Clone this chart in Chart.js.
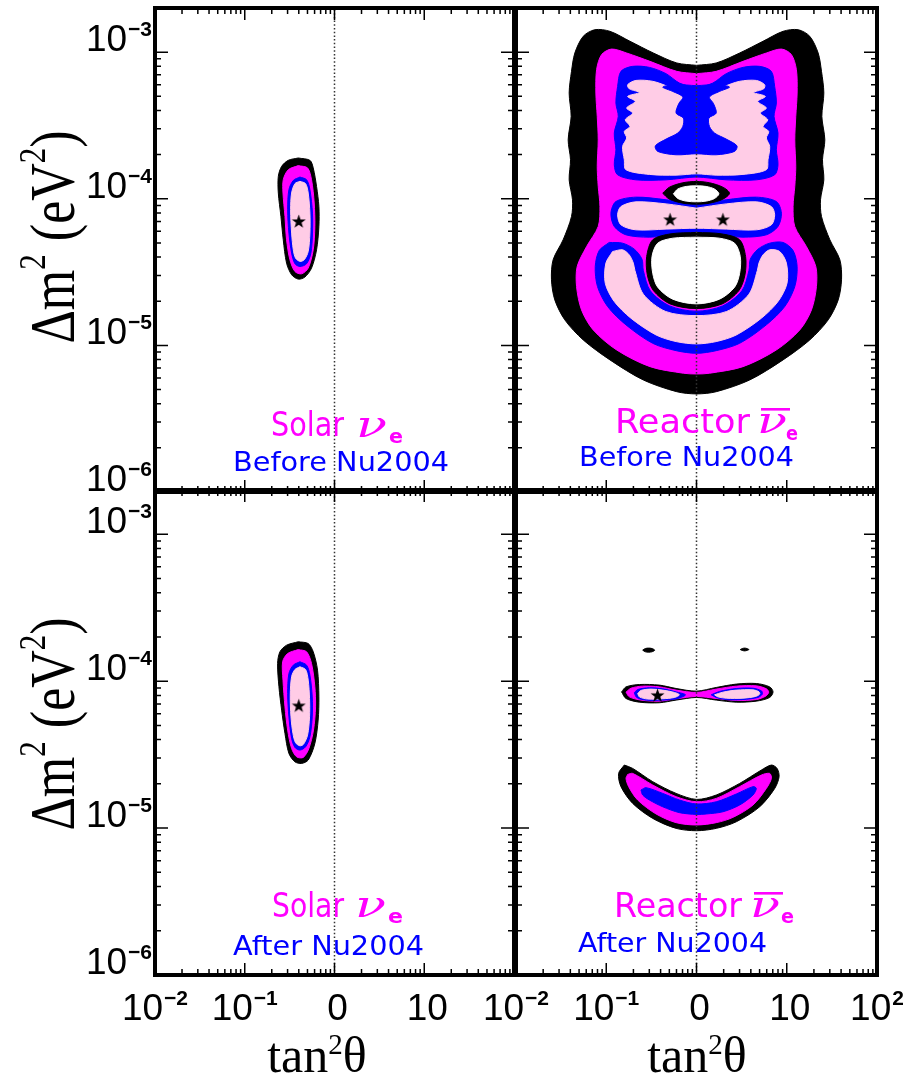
<!DOCTYPE html>
<html>
<head>
<meta charset="utf-8">
<title>Solar and reactor neutrino oscillation regions</title>
<script src="https://cdn.jsdelivr.net/npm/chart.js@4.4.1/dist/chart.umd.min.js"></script>
<style>
  html, body { margin: 0; padding: 0; background: #fff; }
  #wrap { position: relative; width: 903px; height: 1079px; overflow: hidden; background: #fff; }
  #wrap canvas { position: absolute; left: 0; top: 0; }
</style>
</head>
<body>
<div id="wrap">
  <canvas id="solarBeforeCanvas" width="903" height="1079"></canvas>
  <canvas id="reactorBeforeCanvas" width="903" height="1079"></canvas>
  <canvas id="solarAfterCanvas" width="903" height="1079"></canvas>
  <canvas id="reactorAfterCanvas" width="903" height="1079"></canvas>
</div>
<script>
// ---- axes ----
const xRange = [0.01, 100];          // tan^2(theta)
const yRange = [1e-6, 2e-3];         // Delta m^2 in eV^2
const xTickValues = [0.01, 0.1, 1, 10, 100];
const xTickLabels = [['10', '\u22122'], ['10', '\u22121'], ['0', ''], ['10', ''], ['10', '2']];
const yTickValues = [1e-6, 1e-5, 1e-4, 1e-3];
const yTickLabels = [['10', '\u22126'], ['10', '\u22125'], ['10', '\u22124'], ['10', '\u22123']];

// maximal mixing reference line
const unitMixingLine = [{ x: 1, y: 1e-6 }, { x: 1, y: 2e-3 }];

// ---- allowed regions, vertices as [log10 tan^2(theta), log10 Delta m^2] ----
// Solar, before Nu2004
const solarBefore3s = [[-0.404,-3.722],[-0.274,-3.738],[-0.237,-3.790],[-0.200,-3.916],[-0.174,-4.052],[-0.174,-4.189],[-0.200,-4.348],[-0.256,-4.473],[-0.330,-4.534],[-0.404,-4.548],[-0.478,-4.518],[-0.534,-4.439],[-0.571,-4.280],[-0.597,-4.120],[-0.626,-3.961],[-0.626,-3.847],[-0.589,-3.779],[-0.515,-3.738]];
const solarBefore99 = [[-0.404,-3.774],[-0.300,-3.790],[-0.256,-3.870],[-0.226,-4.029],[-0.219,-4.189],[-0.237,-4.348],[-0.293,-4.473],[-0.367,-4.512],[-0.441,-4.496],[-0.497,-4.416],[-0.534,-4.280],[-0.552,-4.120],[-0.574,-3.961],[-0.571,-3.870],[-0.515,-3.802]];
const solarBefore95 = [[-0.385,-3.852],[-0.311,-3.870],[-0.274,-3.938],[-0.245,-4.098],[-0.245,-4.234],[-0.263,-4.371],[-0.311,-4.443],[-0.385,-4.462],[-0.441,-4.443],[-0.478,-4.371],[-0.508,-4.234],[-0.522,-4.075],[-0.508,-3.938],[-0.459,-3.875]];
const solarBefore90 = [[-0.385,-3.881],[-0.322,-3.897],[-0.293,-3.961],[-0.274,-4.098],[-0.274,-4.234],[-0.293,-4.359],[-0.337,-4.416],[-0.385,-4.427],[-0.434,-4.405],[-0.459,-4.348],[-0.478,-4.234],[-0.489,-4.075],[-0.478,-3.961],[-0.441,-3.897]];
const solarBeforeBest = [{ x: 0.40, y: 7.0e-5 }];

// Solar, after Nu2004
const solarAfter3s = [[-0.404,-3.732],[-0.293,-3.744],[-0.237,-3.800],[-0.189,-3.925],[-0.174,-4.107],[-0.182,-4.265],[-0.219,-4.424],[-0.293,-4.537],[-0.367,-4.560],[-0.441,-4.549],[-0.508,-4.492],[-0.552,-4.356],[-0.589,-4.197],[-0.619,-4.038],[-0.634,-3.880],[-0.608,-3.800],[-0.533,-3.755]];
const solarAfter99 = [[-0.404,-3.785],[-0.311,-3.800],[-0.256,-3.880],[-0.219,-4.038],[-0.211,-4.175],[-0.234,-4.333],[-0.285,-4.458],[-0.348,-4.519],[-0.422,-4.515],[-0.478,-4.458],[-0.522,-4.333],[-0.552,-4.175],[-0.574,-3.993],[-0.578,-3.868],[-0.522,-3.812]];
const solarAfter95 = [[-0.385,-3.868],[-0.311,-3.891],[-0.274,-3.959],[-0.248,-4.107],[-0.248,-4.243],[-0.274,-4.379],[-0.322,-4.447],[-0.385,-4.469],[-0.441,-4.451],[-0.478,-4.390],[-0.508,-4.243],[-0.522,-4.084],[-0.508,-3.948],[-0.459,-3.891]];
const solarAfter90 = [[-0.385,-3.902],[-0.322,-3.921],[-0.293,-3.993],[-0.278,-4.118],[-0.278,-4.243],[-0.300,-4.367],[-0.345,-4.429],[-0.385,-4.440],[-0.434,-4.419],[-0.463,-4.356],[-0.485,-4.243],[-0.493,-4.095],[-0.478,-3.970],[-0.441,-3.921]];
const solarAfterBest = [{ x: 0.40, y: 6.8e-5 }];

// Reactor, before Nu2004
const reactorBefore3s = [[0,-3.090],[0.218,-3.074],[0.478,-3.006],[0.737,-2.926],[0.959,-2.858],[1.126,-2.847],[1.255,-2.892],[1.348,-3.006],[1.385,-3.131],[1.411,-3.279],[1.389,-3.438],[1.422,-3.598],[1.396,-3.734],[1.411,-3.871],[1.374,-4.007],[1.385,-4.121],[1.478,-4.280],[1.589,-4.417],[1.607,-4.553],[1.570,-4.690],[1.459,-4.826],[1.255,-4.963],[0.959,-5.099],[0.589,-5.236],[0.218,-5.316],[0,-5.331],[-0.218,-5.316],[-0.589,-5.236],[-0.959,-5.099],[-1.255,-4.963],[-1.459,-4.826],[-1.570,-4.690],[-1.607,-4.553],[-1.589,-4.417],[-1.478,-4.280],[-1.385,-4.121],[-1.374,-4.007],[-1.411,-3.871],[-1.396,-3.734],[-1.422,-3.598],[-1.389,-3.438],[-1.411,-3.279],[-1.385,-3.131],[-1.348,-3.006],[-1.255,-2.892],[-1.126,-2.847],[-0.959,-2.858],[-0.737,-2.926],[-0.478,-3.006],[-0.218,-3.074]];
const reactorBefore99 = [[0,-3.147],[0.218,-3.131],[0.515,-3.063],[0.774,-3.006],[0.941,-2.979],[1.052,-3.017],[1.107,-3.120],[1.115,-3.279],[1.100,-3.438],[1.089,-3.598],[1.100,-3.780],[1.089,-3.916],[1.070,-4.053],[1.089,-4.189],[1.218,-4.326],[1.322,-4.462],[1.329,-4.599],[1.274,-4.758],[1.144,-4.895],[0.885,-5.031],[0.515,-5.145],[0.144,-5.190],[0,-5.195],[-0.144,-5.190],[-0.515,-5.145],[-0.885,-5.031],[-1.144,-4.895],[-1.274,-4.758],[-1.329,-4.599],[-1.322,-4.462],[-1.218,-4.326],[-1.089,-4.189],[-1.070,-4.053],[-1.089,-3.916],[-1.100,-3.780],[-1.089,-3.598],[-1.100,-3.438],[-1.115,-3.279],[-1.107,-3.120],[-1.052,-3.017],[-0.941,-2.979],[-0.774,-3.006],[-0.515,-3.063],[-0.218,-3.131]];
const reactorBefore95Upper = [[0,-3.245],[0.181,-3.211],[0.329,-3.147],[0.515,-3.104],[0.700,-3.097],[0.829,-3.131],[0.866,-3.234],[0.885,-3.347],[0.859,-3.438],[0.903,-3.552],[0.885,-3.666],[0.903,-3.768],[0.866,-3.837],[0.663,-3.871],[0.329,-3.871],[0,-3.852],[-0.337,-3.871],[-0.671,-3.871],[-0.874,-3.837],[-0.911,-3.768],[-0.893,-3.666],[-0.911,-3.552],[-0.867,-3.438],[-0.893,-3.347],[-0.874,-3.234],[-0.837,-3.131],[-0.708,-3.097],[-0.522,-3.104],[-0.337,-3.147],[-0.189,-3.211]];
const reactorBefore90Upper = [[0,-3.302],[0.144,-3.279],[0.292,-3.238],[0.478,-3.199],[0.663,-3.193],[0.755,-3.222],[0.745,-3.250],[0.634,-3.275],[0.763,-3.302],[0.678,-3.336],[0.774,-3.381],[0.708,-3.416],[0.789,-3.461],[0.737,-3.507],[0.800,-3.541],[0.774,-3.586],[0.811,-3.643],[0.792,-3.734],[0.774,-3.802],[0.515,-3.834],[0.218,-3.839],[0,-3.830],[-0.226,-3.839],[-0.522,-3.834],[-0.782,-3.802],[-0.800,-3.734],[-0.819,-3.643],[-0.774,-3.586],[-0.800,-3.541],[-0.737,-3.507],[-0.789,-3.461],[-0.708,-3.416],[-0.774,-3.381],[-0.678,-3.336],[-0.763,-3.302],[-0.634,-3.275],[-0.745,-3.250],[-0.763,-3.222],[-0.671,-3.193],[-0.485,-3.199],[-0.300,-3.238],[-0.152,-3.279]];
const reactorBeforeCore95 = [[0,-3.229],[0.218,-3.222],[0.366,-3.238],[0.255,-3.268],[0.144,-3.306],[0.189,-3.352],[0.218,-3.416],[0.137,-3.450],[0.144,-3.507],[0.200,-3.552],[0.329,-3.593],[0.448,-3.639],[0.422,-3.677],[0.218,-3.700],[0,-3.693],[-0.226,-3.700],[-0.430,-3.677],[-0.456,-3.639],[-0.337,-3.593],[-0.208,-3.552],[-0.152,-3.507],[-0.145,-3.450],[-0.226,-3.416],[-0.197,-3.352],[-0.152,-3.306],[-0.263,-3.268],[-0.374,-3.238],[-0.226,-3.222]];
const reactorBefore95Low = [[-0.967,-4.298],[-1.078,-4.353],[-1.122,-4.462],[-1.097,-4.599],[-0.985,-4.735],[-0.782,-4.860],[-0.485,-4.986],[-0.226,-5.036],[0,-5.054],[0.218,-5.036],[0.478,-4.986],[0.774,-4.860],[0.978,-4.735],[1.089,-4.599],[1.115,-4.462],[1.070,-4.353],[0.959,-4.298],[0.811,-4.303],[0.681,-4.344],[0.596,-4.412],[0.581,-4.490],[0.503,-4.628],[0.289,-4.731],[0,-4.767],[-0.297,-4.731],[-0.511,-4.628],[-0.589,-4.490],[-0.604,-4.412],[-0.689,-4.344],[-0.819,-4.303]];
const reactorBefore90Low = [[-0.930,-4.360],[-1.004,-4.439],[-1.011,-4.576],[-0.911,-4.701],[-0.726,-4.815],[-0.448,-4.929],[-0.226,-4.974],[0,-4.990],[0.218,-4.974],[0.441,-4.929],[0.718,-4.815],[0.903,-4.701],[1.003,-4.576],[0.996,-4.439],[0.922,-4.360],[0.811,-4.348],[0.737,-4.383],[0.692,-4.439],[0.674,-4.490],[0.581,-4.651],[0.333,-4.769],[0,-4.797],[-0.341,-4.769],[-0.589,-4.651],[-0.682,-4.490],[-0.700,-4.439],[-0.745,-4.383],[-0.819,-4.348]];
const reactorBefore95Mid = [[0,-4.035],[0.329,-4.007],[0.663,-3.989],[0.885,-4.019],[0.941,-4.098],[0.903,-4.189],[0.774,-4.246],[0.515,-4.262],[0.218,-4.246],[0,-4.235],[-0.226,-4.246],[-0.522,-4.262],[-0.782,-4.246],[-0.911,-4.189],[-0.948,-4.098],[-0.893,-4.019],[-0.671,-3.989],[-0.337,-4.007]];
const reactorBefore90Mid = [[0,-4.064],[0.329,-4.035],[0.663,-4.021],[0.829,-4.053],[0.866,-4.110],[0.829,-4.178],[0.663,-4.212],[0.329,-4.207],[0,-4.201],[-0.337,-4.207],[-0.671,-4.212],[-0.837,-4.178],[-0.874,-4.110],[-0.837,-4.053],[-0.671,-4.021],[-0.337,-4.035]];
const reactorBeforeGapUp3s = [[-0.374,-3.962],[-0.300,-3.921],[-0.152,-3.891],[0,-3.882],[0.144,-3.891],[0.292,-3.921],[0.366,-3.962],[0.292,-4.003],[0.144,-4.030],[0,-4.037],[-0.152,-4.030],[-0.300,-4.003]];
const reactorBeforeGapUp = [[-0.256,-3.966],[-0.208,-3.934],[-0.115,-3.916],[0,-3.912],[0.107,-3.916],[0.200,-3.934],[0.248,-3.966],[0.200,-3.998],[0.107,-4.016],[0,-4.021],[-0.115,-4.016],[-0.208,-3.998]];
const reactorBeforeGapLow3s = [[0,-4.230],[0.274,-4.239],[0.478,-4.280],[0.544,-4.394],[0.537,-4.519],[0.470,-4.626],[0.285,-4.717],[0,-4.749],[-0.293,-4.717],[-0.478,-4.626],[-0.545,-4.519],[-0.552,-4.394],[-0.485,-4.280],[-0.282,-4.239]];
const reactorBeforeGapLow = [[0,-4.262],[0.255,-4.269],[0.422,-4.303],[0.485,-4.394],[0.478,-4.508],[0.422,-4.603],[0.255,-4.685],[0,-4.717],[-0.263,-4.685],[-0.430,-4.603],[-0.485,-4.508],[-0.493,-4.394],[-0.430,-4.303],[-0.263,-4.269]];
const reactorBeforeBest = [{ x: 0.51, y: 7.2e-5 }, { x: 1.96, y: 7.2e-5 }];

// Reactor, after Nu2004
const reactorAfter3sIslandL = [[-0.596,-3.789],[-0.567,-3.778],[-0.530,-3.775],[-0.493,-3.778],[-0.463,-3.789],[-0.493,-3.800],[-0.530,-3.803],[-0.567,-3.800]];
const reactorAfter3sIslandR = [[0.485,-3.785],[0.507,-3.778],[0.533,-3.775],[0.559,-3.778],[0.581,-3.785],[0.559,-3.791],[0.533,-3.794],[0.507,-3.791]];
const reactorAfter3sMain = [[-0.830,-4.073],[-0.781,-4.039],[-0.633,-4.023],[-0.411,-4.027],[-0.226,-4.050],[0,-4.068],[0.219,-4.043],[0.441,-4.020],[0.663,-4.016],[0.811,-4.039],[0.848,-4.073],[0.811,-4.111],[0.663,-4.136],[0.441,-4.143],[0.219,-4.129],[0,-4.111],[-0.226,-4.129],[-0.411,-4.147],[-0.633,-4.143],[-0.781,-4.118]];
const reactorAfter99Main = [[-0.781,-4.075],[-0.726,-4.048],[-0.596,-4.034],[-0.411,-4.039],[-0.226,-4.061],[0,-4.077],[0.219,-4.054],[0.441,-4.034],[0.663,-4.032],[0.774,-4.052],[0.800,-4.075],[0.767,-4.102],[0.663,-4.125],[0.441,-4.131],[0.219,-4.118],[0,-4.104],[-0.226,-4.120],[-0.411,-4.136],[-0.615,-4.129],[-0.744,-4.107]];
const reactorAfter95MainL = [[-0.689,-4.079],[-0.652,-4.057],[-0.522,-4.045],[-0.374,-4.052],[-0.226,-4.073],[-0.122,-4.093],[-0.207,-4.118],[-0.374,-4.129],[-0.559,-4.129],[-0.663,-4.111]];
const reactorAfter95MainR = [[0.163,-4.093],[0.256,-4.070],[0.441,-4.050],[0.626,-4.048],[0.719,-4.066],[0.730,-4.088],[0.681,-4.111],[0.515,-4.125],[0.330,-4.125],[0.219,-4.111]];
const reactorAfter90MainL = [[-0.652,-4.084],[-0.615,-4.063],[-0.504,-4.054],[-0.374,-4.061],[-0.244,-4.077],[-0.189,-4.093],[-0.244,-4.111],[-0.374,-4.120],[-0.541,-4.122],[-0.633,-4.107]];
const reactorAfter90MainR = [[0.200,-4.093],[0.293,-4.075],[0.441,-4.061],[0.626,-4.059],[0.693,-4.073],[0.700,-4.088],[0.656,-4.104],[0.515,-4.116],[0.330,-4.116],[0.237,-4.107]];
const reactorAfter3sLow = [[-0.800,-4.571],[-0.707,-4.594],[-0.485,-4.684],[-0.226,-4.764],[0,-4.805],[0.219,-4.775],[0.478,-4.696],[0.719,-4.605],[0.830,-4.571],[0.893,-4.594],[0.915,-4.650],[0.867,-4.730],[0.700,-4.855],[0.441,-4.957],[0.219,-5.002],[0,-5.018],[-0.226,-5.002],[-0.485,-4.934],[-0.707,-4.832],[-0.837,-4.718],[-0.863,-4.628]];
const reactorAfter99Low = [[-0.763,-4.635],[-0.707,-4.628],[-0.485,-4.707],[-0.226,-4.786],[0,-4.821],[0.219,-4.798],[0.478,-4.718],[0.719,-4.639],[0.811,-4.628],[0.830,-4.662],[0.774,-4.730],[0.626,-4.843],[0.404,-4.927],[0.219,-4.963],[0,-4.979],[-0.226,-4.963],[-0.448,-4.904],[-0.652,-4.809],[-0.752,-4.718],[-0.781,-4.662]];
const reactorAfter95Low = [[-0.615,-4.741],[-0.559,-4.725],[-0.374,-4.764],[-0.189,-4.809],[0,-4.836],[0.219,-4.821],[0.441,-4.768],[0.626,-4.718],[0.663,-4.730],[0.626,-4.775],[0.478,-4.843],[0.293,-4.889],[0.107,-4.904],[0,-4.907],[-0.189,-4.895],[-0.374,-4.855],[-0.522,-4.809],[-0.596,-4.775]];
const reactorAfterBest = [{ x: 0.37, y: 8.0e-5 }];

// ---- styling ----
const LEVEL_COLORS = { cl3s: '#000000', cl99: '#ff00ff', cl95: '#0000ff', cl90: '#ffcce6', out: '#ffffff' };
const MAGENTA = '#ff00ff', BLUE = '#0000ff';
const TICK_FONT = '37px "Liberation Sans", Arial, sans-serif';
const TICK_SUP_FONT = 'bold 21px "Liberation Sans", Arial, sans-serif';
const TITLE_FONT = '52px "Liberation Serif", "Times New Roman", serif';
const TITLE_SUP_FONT = '31px "Liberation Serif", "Times New Roman", serif';
const XTITLE_FONT = '50px "Liberation Serif", "Times New Roman", serif';
const XTITLE_SUP_FONT = '29px "Liberation Serif", "Times New Roman", serif';
const NAME_FONT = '33px "DejaVu Sans", sans-serif';
const NU_FONT = 'italic 38px "DejaVu Serif", serif';
const SUB_FONT = 'bold 19px "DejaVu Sans", sans-serif';
const LINE2_FONT = '27px "DejaVu Sans", sans-serif';

// filled five-pointed star used for best-fit points
const starMarker = document.createElement('canvas');
starMarker.width = 15; starMarker.height = 15;
(function () {
  const s = starMarker.getContext('2d');
  s.fillStyle = '#000';
  s.beginPath();
  for (let i = 0; i < 10; i++) {
    const r = i % 2 ? 2.9 : 7.3;
    const a = -Math.PI / 2 + i * Math.PI / 5;
    s.lineTo(7.5 + r * Math.cos(a), 7.8 + r * Math.sin(a));
  }
  s.closePath();
  s.fill();
})();

function toPoints(vertices) {
  const pts = vertices.map(([lt, lm]) => ({ x: Math.pow(10, lt), y: Math.pow(10, lm) }));
  pts.push({ x: pts[0].x, y: pts[0].y });
  return pts;
}

function regionDataset(vertices, level) {
  const c = LEVEL_COLORS[level];
  return {
    data: toPoints(vertices), showLine: true, fill: 'shape',
    backgroundColor: c, borderColor: c, borderWidth: 1,
    pointRadius: 0, pointHoverRadius: 0, tension: 0.3
  };
}

// ---- text helpers ----
function runsWidth(ctx, runs) {
  return runs.map(r => { ctx.font = r.font; return ctx.measureText(r.text).width + (r.gap || 0); });
}
function drawRuns(ctx, runs, left, baseline, widths) {
  let cx = left;
  runs.forEach((r, i) => {
    ctx.font = r.font;
    ctx.fillText(r.text, cx, baseline - (r.rise || 0));
    cx += widths[i];
  });
}
function supLabel(ctx, [base, sup], x, y, align) {
  ctx.save();
  ctx.fillStyle = '#000'; ctx.textAlign = 'left'; ctx.textBaseline = 'alphabetic';
  const runs = [{ text: base, font: TICK_FONT, gap: sup ? 1 : 0 }];
  if (sup) runs.push({ text: sup, font: TICK_SUP_FONT, rise: 15 });
  const w = runsWidth(ctx, runs);
  const total = w.reduce((a, b) => a + b, 0);
  const left = align === 'right' ? x - total : x - total / 2;
  drawRuns(ctx, runs, left, y, w);
  ctx.restore();
}
function fitText(ctx, str, font, color, x0, x1, baseline) {
  ctx.save();
  ctx.font = font; ctx.fillStyle = color; ctx.textAlign = 'left'; ctx.textBaseline = 'alphabetic';
  const w = ctx.measureText(str).width;
  ctx.translate(x0, baseline);
  ctx.scale((x1 - x0) / w, 1);
  ctx.fillText(str, 0, 0);
  ctx.restore();
}
function drawYTitle(ctx, cy) {
  ctx.save();
  ctx.fillStyle = '#000'; ctx.textAlign = 'left'; ctx.textBaseline = 'alphabetic';
  ctx.translate(74, cy);
  ctx.rotate(-Math.PI / 2);
  ctx.scale(1, 1.22);
  const runs = [
    { text: '\u0394m', font: TITLE_FONT },
    { text: '2', font: TITLE_SUP_FONT, rise: 24 },
    { text: ' (eV', font: TITLE_FONT },
    { text: '2', font: TITLE_SUP_FONT, rise: 24 },
    { text: ')', font: TITLE_FONT }
  ];
  const w = runsWidth(ctx, runs);
  const total = w.reduce((a, b) => a + b, 0);
  drawRuns(ctx, runs, -total / 2, 0, w);
  ctx.restore();
}
function drawXTitle(ctx, cx, baseline) {
  ctx.save();
  ctx.fillStyle = '#000'; ctx.textAlign = 'left'; ctx.textBaseline = 'alphabetic';
  const runs = [
    { text: 'tan', font: XTITLE_FONT },
    { text: '2', font: XTITLE_SUP_FONT, rise: 18 },
    { text: '\u03b8', font: XTITLE_FONT }
  ];
  const w = runsWidth(ctx, runs);
  const total = w.reduce((a, b) => a + b, 0);
  drawRuns(ctx, runs, cx - total / 2, baseline, w);
  ctx.restore();
}

// inward ticks on all four sides, majors at each decade
function drawTicks(ctx, ca, xs, ys) {
  ctx.save();
  ctx.strokeStyle = '#000';
  ctx.lineWidth = 1.5;
  ctx.beginPath();
  for (let e = -2; e <= 2; e++) {
    for (let k = 1; k <= 9; k++) {
      const v = k * Math.pow(10, e);
      if (v < xRange[0] * 0.999 || v > xRange[1] * 1.001) continue;
      const px = xs.getPixelForValue(v);
      const len = k === 1 ? 12 : 6;
      ctx.moveTo(px, ca.bottom); ctx.lineTo(px, ca.bottom - len);
      ctx.moveTo(px, ca.top); ctx.lineTo(px, ca.top + len);
    }
  }
  for (let e = -6; e <= -3; e++) {
    for (let k = 1; k <= 9; k++) {
      const v = k * Math.pow(10, e);
      if (v < yRange[0] * 0.999 || v > yRange[1] * 1.001) continue;
      const py = ys.getPixelForValue(v);
      const len = k === 1 ? 13 : 6;
      ctx.moveTo(ca.left, py); ctx.lineTo(ca.left + len, py);
      ctx.moveTo(ca.right, py); ctx.lineTo(ca.right - len, py);
    }
  }
  ctx.stroke();
  ctx.restore();
}

function panelDecor(spec) {
  return {
    id: 'panelDecor',
    afterDraw(chart) {
      const { ctx, chartArea: ca } = chart;
      const xs = chart.scales.x, ys = chart.scales.y;
      drawTicks(ctx, ca, xs, ys);
      ctx.save();
      ctx.lineWidth = 4; ctx.strokeStyle = '#000';
      ctx.strokeRect(ca.left, ca.top, ca.right - ca.left, ca.bottom - ca.top);
      ctx.restore();
      if (spec.leftLabels) {
        yTickValues.forEach((v, i) => supLabel(ctx, yTickLabels[i], 152, ys.getPixelForValue(v) - 1, 'right'));
        drawYTitle(ctx, spec.yTitleCenter);
      }
      if (spec.bottomLabels) {
        xTickValues.forEach((v, i) => {
          if (spec.skipLastX && i === xTickValues.length - 1) return;
          supLabel(ctx, xTickLabels[i], xs.getPixelForValue(v) + (xTickLabels[i][1] ? 0 : 3), 1020, 'center');
        });
        drawXTitle(ctx, spec.xTitleCenter, 1072);
      }
      spec.caption(ctx);
    }
  };
}

function makePanel(spec) {
  const datasets = spec.layers.map(([v, level], i) => Object.assign(regionDataset(v, level), { order: 100 - i }));
  datasets.push({
    data: unitMixingLine, showLine: true, fill: false, borderColor: '#333333', borderWidth: 1.5,
    borderDash: [1.5, 2.2], pointRadius: 0, pointHoverRadius: 0, tension: 0, order: 1
  });
  datasets.push({ data: spec.best, showLine: false, pointStyle: starMarker, pointRadius: 7, order: 0 });
  const [l, t, r, b] = spec.area;
  return new Chart(document.getElementById(spec.canvas), {
    type: 'scatter',
    data: { datasets },
    options: {
      responsive: false, animation: false, devicePixelRatio: 1, events: [],
      layout: { padding: { left: l, top: t, right: 903 - r, bottom: 1079 - b } },
      plugins: { legend: { display: false }, tooltip: { enabled: false } },
      scales: {
        x: { type: 'logarithmic', min: xRange[0], max: xRange[1], display: false },
        y: { type: 'logarithmic', min: yRange[0], max: yRange[1], display: false }
      }
    },
    plugins: [panelDecor(spec)]
  });
}

makePanel({
  canvas: 'solarBeforeCanvas', area: [155, 8, 514, 492],
  layers: [[solarBefore3s, 'cl3s'], [solarBefore99, 'cl99'], [solarBefore95, 'cl95'], [solarBefore90, 'cl90']],
  best: solarBeforeBest, leftLabels: true, yTitleCenter: 237, bottomLabels: false,
  caption: ctx => {
    fitText(ctx, 'Solar', NAME_FONT, MAGENTA, 271, 344, 436);
    fitText(ctx, '\u03bd', NU_FONT, MAGENTA, 356, 387, 437);
    fitText(ctx, 'e', SUB_FONT, MAGENTA, 389, 403, 443);
    fitText(ctx, 'Before Nu2004', LINE2_FONT, BLUE, 233, 449, 471);
  }
});

makePanel({
  canvas: 'reactorBeforeCanvas', area: [516, 8, 877, 492],
  layers: [
    [reactorBefore3s, 'cl3s'], [reactorBefore99, 'cl99'],
    [reactorBefore95Upper, 'cl95'], [reactorBefore90Upper, 'cl90'], [reactorBeforeCore95, 'cl95'],
    [reactorBefore95Low, 'cl95'], [reactorBefore90Low, 'cl90'],
    [reactorBefore95Mid, 'cl95'], [reactorBefore90Mid, 'cl90'],
    [reactorBeforeGapUp3s, 'cl3s'], [reactorBeforeGapUp, 'out'],
    [reactorBeforeGapLow3s, 'cl3s'], [reactorBeforeGapLow, 'out']
  ],
  best: reactorBeforeBest, leftLabels: false, bottomLabels: false,
  caption: ctx => {
    fitText(ctx, 'Reactor', NAME_FONT, MAGENTA, 615, 750, 433);
    fitText(ctx, '\u03bd', NU_FONT, MAGENTA, 757, 787, 433);
    ctx.save(); ctx.fillStyle = MAGENTA; ctx.fillRect(761, 408, 29, 2.6); ctx.restore();
    fitText(ctx, 'e', SUB_FONT, MAGENTA, 786, 798, 440);
    fitText(ctx, 'Before Nu2004', LINE2_FONT, BLUE, 579, 794, 466);
  }
});

makePanel({
  canvas: 'solarAfterCanvas', area: [155, 490, 514, 975],
  layers: [[solarAfter3s, 'cl3s'], [solarAfter99, 'cl99'], [solarAfter95, 'cl95'], [solarAfter90, 'cl90']],
  best: solarAfterBest, leftLabels: true, yTitleCenter: 724, bottomLabels: true, skipLastX: true, xTitleCenter: 317,
  caption: ctx => {
    fitText(ctx, 'Solar', NAME_FONT, MAGENTA, 272, 344, 917);
    fitText(ctx, '\u03bd', NU_FONT, MAGENTA, 355, 386, 917);
    fitText(ctx, 'e', SUB_FONT, MAGENTA, 388, 403, 923);
    fitText(ctx, 'After Nu2004', LINE2_FONT, BLUE, 233, 424, 955);
  }
});

makePanel({
  canvas: 'reactorAfterCanvas', area: [516, 490, 877, 975],
  layers: [
    [reactorAfter3sIslandL, 'cl3s'], [reactorAfter3sIslandR, 'cl3s'],
    [reactorAfter3sMain, 'cl3s'], [reactorAfter99Main, 'cl99'],
    [reactorAfter95MainL, 'cl95'], [reactorAfter95MainR, 'cl95'],
    [reactorAfter90MainL, 'cl90'], [reactorAfter90MainR, 'cl90'],
    [reactorAfter3sLow, 'cl3s'], [reactorAfter99Low, 'cl99'], [reactorAfter95Low, 'cl95']
  ],
  best: reactorAfterBest, leftLabels: false, bottomLabels: true, skipLastX: false, xTitleCenter: 697,
  caption: ctx => {
    fitText(ctx, 'Reactor', NAME_FONT, MAGENTA, 614, 742, 917);
    fitText(ctx, '\u03bd', NU_FONT, MAGENTA, 750, 780, 917);
    ctx.save(); ctx.fillStyle = MAGENTA; ctx.fillRect(754, 892, 29, 2.6); ctx.restore();
    fitText(ctx, 'e', SUB_FONT, MAGENTA, 781, 794, 923);
    fitText(ctx, 'After Nu2004', LINE2_FONT, BLUE, 578, 767, 952);
  }
});
</script>
</body>
</html>
